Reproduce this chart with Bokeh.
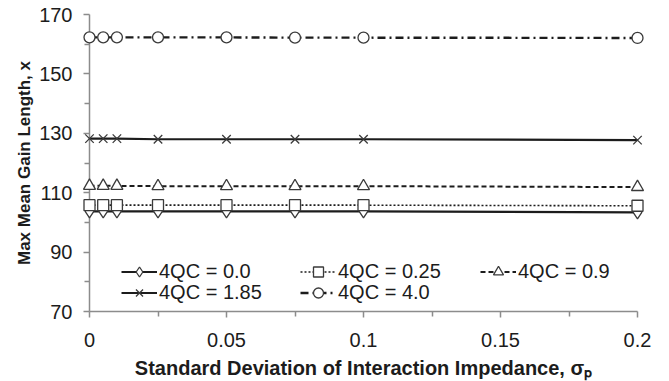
from bokeh.plotting import figure
from bokeh.models import FixedTicker, NumeralTickFormatter, Legend, LegendItem, Title
from bokeh.embed import file_html
from bokeh.resources import INLINE

# ---- data ----
sigma_p = [0, 0.005, 0.01, 0.025, 0.05, 0.075, 0.1, 0.2]
qc_0_0 = [103.7, 103.7, 103.7, 103.7, 103.7, 103.7, 103.7, 103.4]
qc_0_25 = [105.8, 105.8, 105.8, 105.8, 105.8, 105.8, 105.8, 105.6]
qc_0_9 = [112.3, 112.3, 112.3, 112.2, 112.2, 112.2, 112.2, 111.9]
qc_1_85 = [128.2, 128.2, 128.2, 128.0, 128.0, 128.0, 128.0, 127.7]
qc_4_0 = [162.3, 162.3, 162.3, 162.3, 162.3, 162.2, 162.2, 162.1]
series_labels = ["4QC = 0.0", "4QC = 0.25", "4QC = 0.9", "4QC = 1.85", "4QC = 4.0"]

x_major_ticks = [0, 0.05, 0.1, 0.15, 0.2]
x_minor_ticks = [0.025, 0.075, 0.125, 0.175]
y_major_ticks = [70, 90, 110, 130, 150, 170]
y_minor_ticks = [80, 100, 120, 140, 160]

x_title = "Standard Deviation of Interaction Impedance, σₚ"
y_title = "Max Mean Gain Length, x"

FONT = "Liberation Sans"
INK = "#1c1c1c"
MARK = "#3a3a3a"
AXIS = "#8c8c8c"

p = figure(width=669, height=381, x_range=(0, 0.2), y_range=(70, 170),
           output_backend="svg", toolbar_location=None,
           min_border_left=89, min_border_right=32, min_border_top=14, min_border_bottom=70)
p.outline_line_color = None
p.xgrid.grid_line_color = None
p.ygrid.grid_line_color = None
p.background_fill_color = "white"
p.border_fill_color = "white"

p.xaxis.ticker = FixedTicker(ticks=x_major_ticks, minor_ticks=x_minor_ticks)
p.yaxis.ticker = FixedTicker(ticks=y_major_ticks, minor_ticks=y_minor_ticks)
p.xaxis.formatter = NumeralTickFormatter(format="0.[00]")

for ax in (p.xaxis, p.yaxis):
    ax.axis_line_color = AXIS
    ax.axis_line_width = 1.5
    ax.major_tick_line_color = AXIS
    ax.minor_tick_line_color = AXIS
    ax.major_tick_line_width = 1.5
    ax.minor_tick_line_width = 1.5
    ax.major_tick_in = 0
    ax.minor_tick_in = 0
    ax.major_tick_out = 6
    ax.minor_tick_out = 5
    ax.major_label_text_font = FONT
    ax.major_label_text_font_size = "20px"
    ax.major_label_text_color = INK
    ax.axis_label_text_font = FONT
    ax.axis_label_text_font_size = "20px"
    ax.axis_label_text_font_style = "bold"
    ax.axis_label_text_color = INK

p.xaxis.axis_label = x_title
p.xaxis.major_label_standoff = 15
p.xaxis.axis_label_standoff = 7
p.yaxis.major_label_standoff = 11

# y-axis title as a left-side title (sits a little above the frame centre, as in the reference)
p.add_layout(Title(text=y_title, align="center", offset=16, standoff=5,
                   text_font=FONT, text_font_size="17px", text_font_style="bold",
                   text_color=INK), "left")

all_series = [qc_0_0, qc_0_25, qc_0_9, qc_1_85, qc_4_0]
styles = [
    dict(dash="solid", width=2.2, marker="diamond", size=13),
    dict(dash="2 2", width=1.6, marker="square", size=11),
    dict(dash="5 3", width=2.0, marker="triangle", size=12),
    dict(dash="solid", width=2.2, marker="x", size=12),
    dict(dash="8 4 2 4", width=2.4, marker="circle", size=11),
]

items = []
for vals, st, lab in zip(all_series, styles, series_labels):
    lr = p.line(sigma_p, vals, line_color=INK, line_width=st["width"], line_dash=st["dash"])
    sr = p.scatter(sigma_p, vals, marker=st["marker"], size=st["size"],
                   fill_color="white", line_color=MARK, line_width=1.3)
    sr.level = "overlay"
    items.append(LegendItem(label=lab, renderers=[lr, sr]))

# legend positions: (offset from frame left, offset from frame bottom)
legend_spots = [(32, 27), (211, 27), (391, 27), (32, 6), (211, 6)]
for it, (lx, ly) in zip(items, legend_spots):
    lg = Legend(items=[it], location=(lx, ly), orientation="vertical",
                glyph_width=36, glyph_height=25, label_height=25, label_standoff=2,
                padding=0, margin=0, spacing=0,
                border_line_color=None, background_fill_alpha=0,
                label_text_font=FONT, label_text_font_size="20px", label_text_color=INK)
    p.add_layout(lg, "center")

open("out.html", "w").write(file_html(p, INLINE))
